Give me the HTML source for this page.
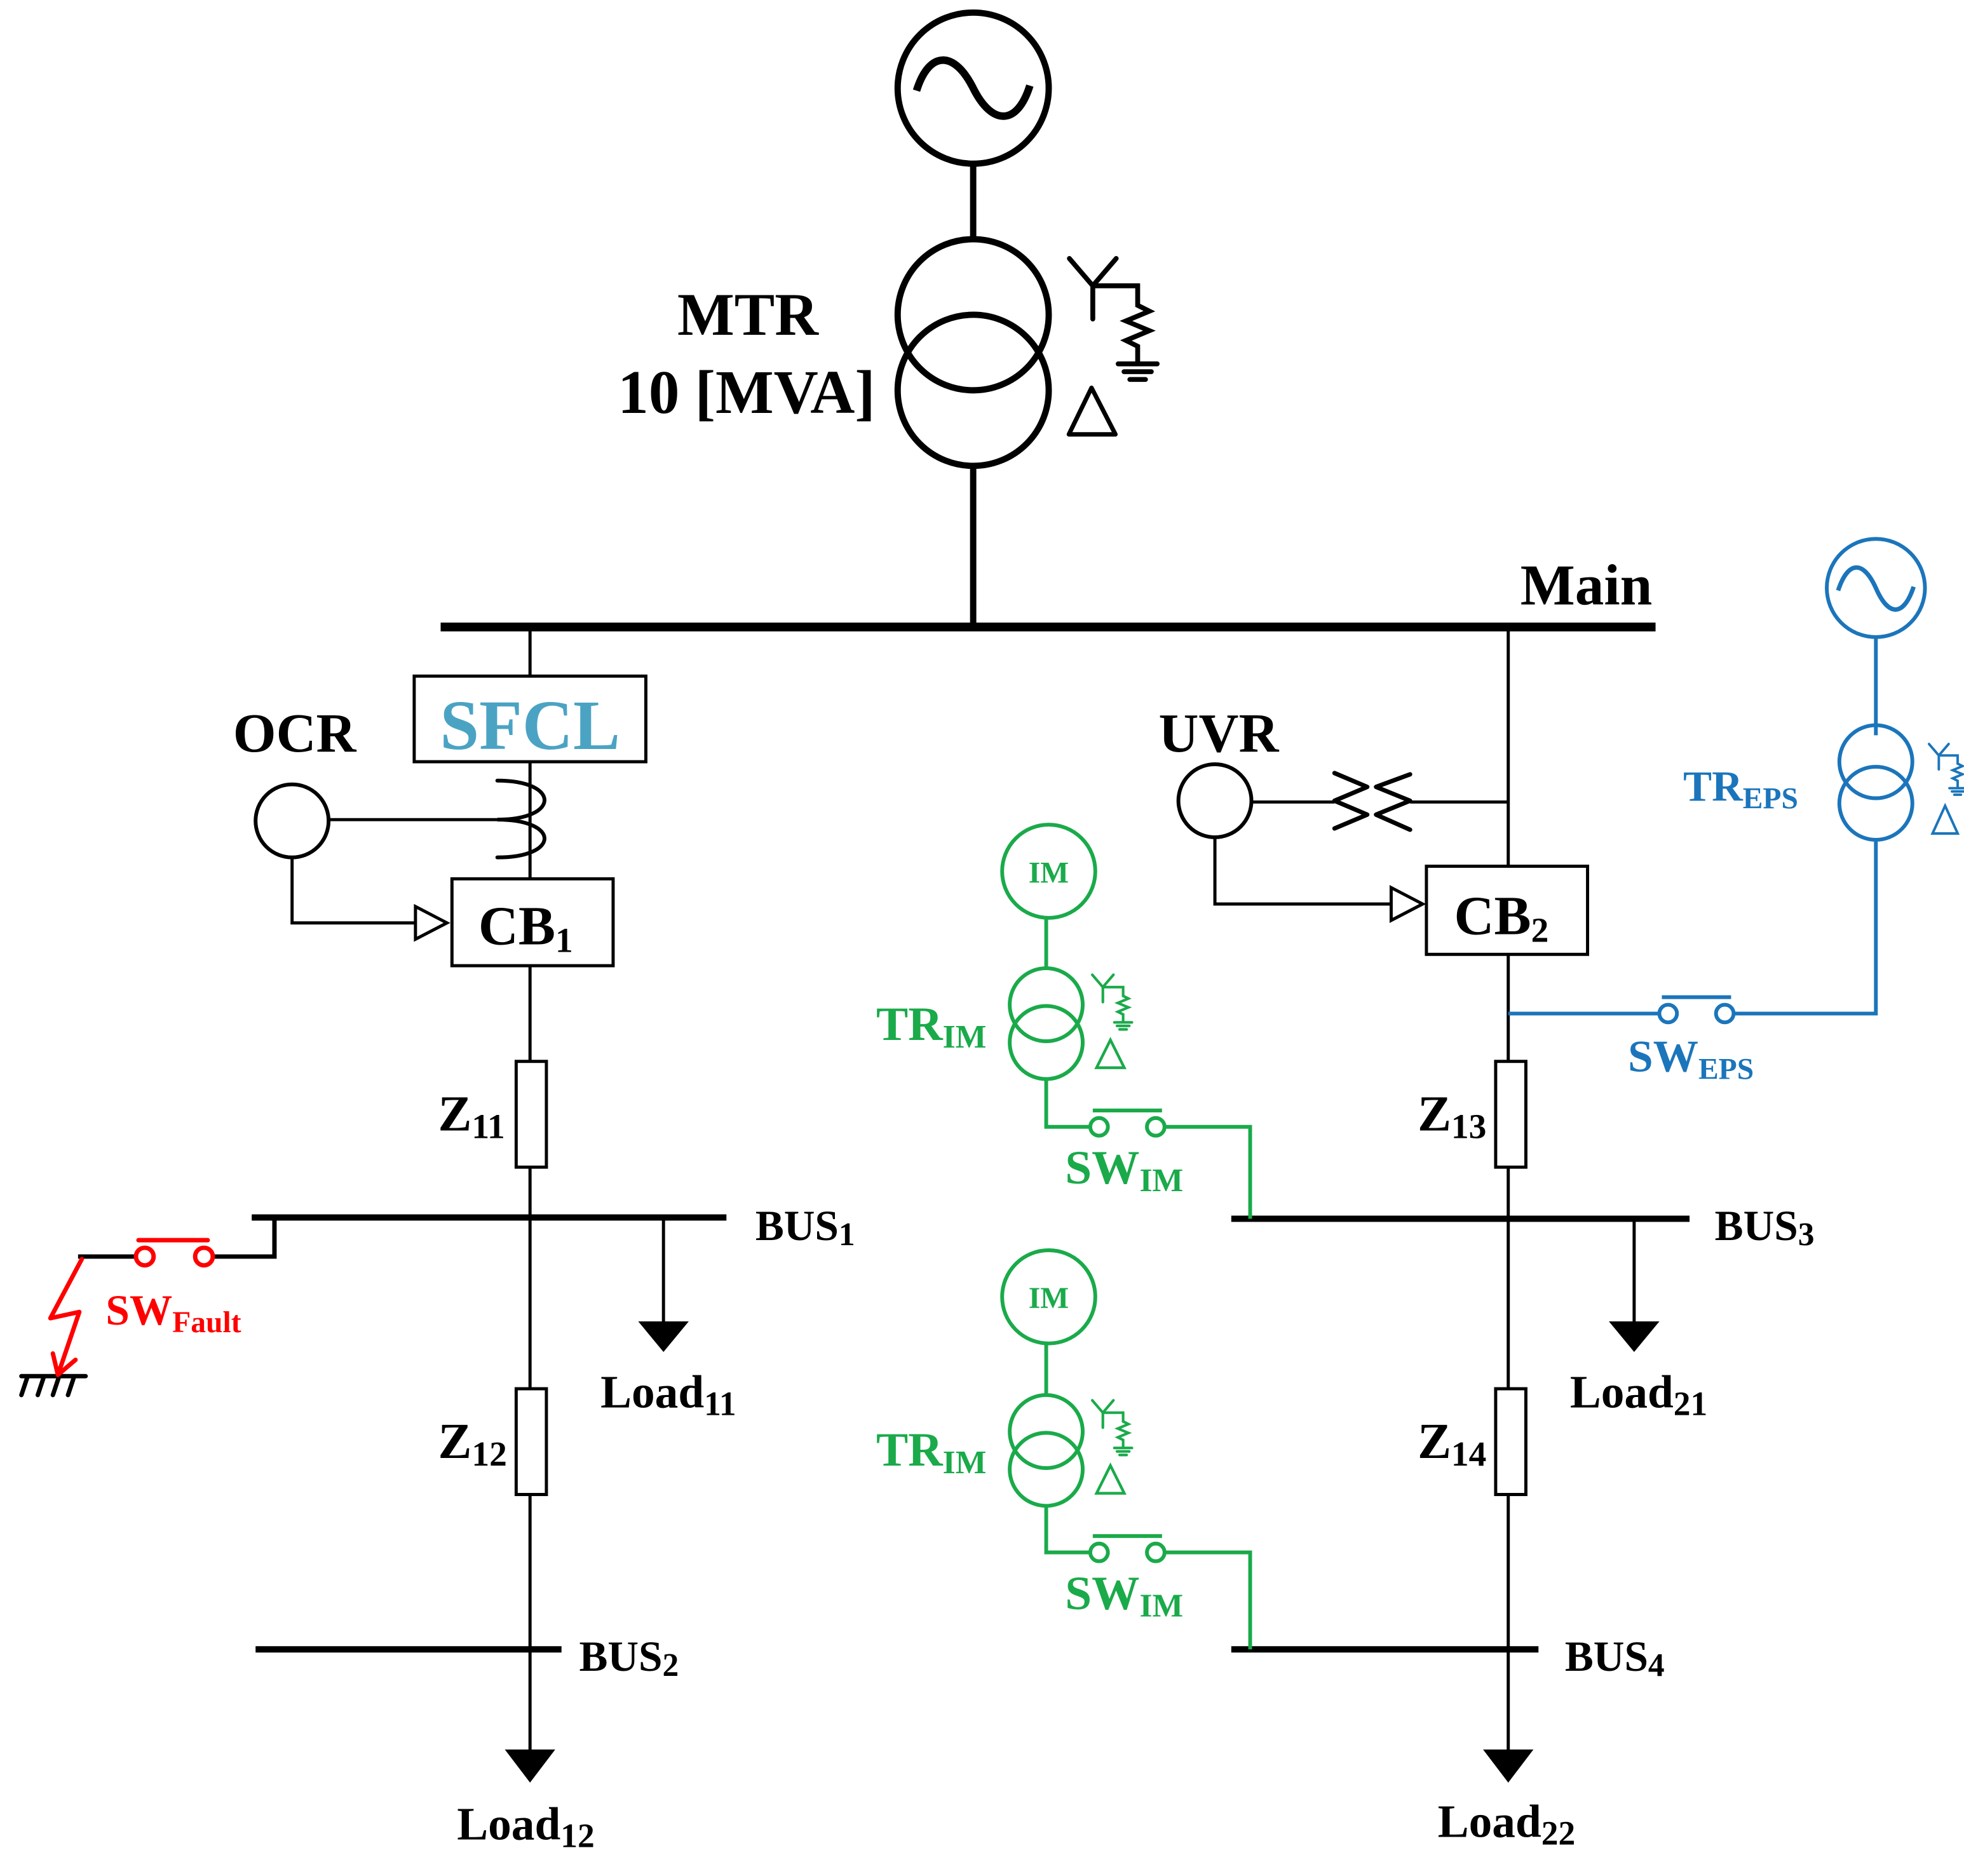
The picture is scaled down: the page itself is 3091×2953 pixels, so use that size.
<!DOCTYPE html>
<html><head><meta charset="utf-8"><style>
html,body{margin:0;padding:0;background:#fff;}
svg{display:block;}
text{font-family:"Liberation Serif",serif;font-weight:bold;}
</style></head><body>
<svg width="3091" height="2953" viewBox="0 0 1560 1490" preserveAspectRatio="none" xmlns="http://www.w3.org/2000/svg">
<defs>
<g id="yg" fill="none" stroke-linecap="round">
 <path d="M-12,-14 L0,0 L12,-14 M0,0 V17 M0,0 H23 V10 L29,13 L17,18 L29,23 L17,28 L23,31 V40 M13,40 H33 M16,44 H30 M19,48 H27"/>
</g>
</defs>
<rect width="1560" height="1490" fill="#fff"/>
<g stroke="#000" fill="none">
 <circle cx="773" cy="70" r="60" stroke-width="5"/>
 <path d="M728,72 C738,40 758,40 773,70 C788,100 808,100 818,68" stroke-width="6"/>
 <line x1="773" y1="130" x2="773" y2="190" stroke-width="5"/>
 <circle cx="773" cy="250" r="60" stroke-width="5"/>
 <circle cx="773" cy="310" r="60" stroke-width="5"/>
 <line x1="773" y1="370" x2="773" y2="498" stroke-width="5"/>
 <g transform="translate(868,227) scale(1.55)"><use href="#yg" stroke-width="2.5"/></g>
 <path d="M867,308 L849,345 L886,345 Z" stroke-width="3.5" stroke-linejoin="round"/>
 <line x1="350" y1="498" x2="1315" y2="498" stroke-width="7"/>
 <!-- left feeder -->
 <line x1="421" y1="498" x2="421" y2="537" stroke-width="2.5"/>
 <rect x="329" y="537" width="184" height="68" stroke-width="2.5"/>
 <line x1="421" y1="605" x2="421" y2="698" stroke-width="2.5"/>
 <path d="M395,620 C445,620 445,651 395,651 C445,651 445,681 395,681" stroke-width="3" stroke-linecap="round"/>
 <circle cx="232" cy="652" r="29" stroke-width="3"/>
 <line x1="261" y1="651" x2="400" y2="651" stroke-width="2.5"/>
 <path d="M232,681 V733 H330" stroke-width="2.5"/>
 <path d="M330,720 L355,733 L330,746 Z" stroke-width="2.5"/>
 <rect x="359" y="698" width="128" height="69" stroke-width="2.5"/>
 <line x1="421" y1="767" x2="421" y2="843" stroke-width="2.5"/>
 <rect x="410" y="843" width="24" height="84" stroke-width="2.5"/>
 <line x1="421" y1="927" x2="421" y2="1103" stroke-width="2.5"/>
 <line x1="200" y1="967" x2="577" y2="967" stroke-width="5"/>
 <line x1="527" y1="967" x2="527" y2="1050" stroke-width="2.5"/>
 <path d="M508,1050 L546,1050 L527,1073 Z" fill="#000" stroke-width="1"/>
 <rect x="410" y="1103" width="24" height="84" stroke-width="2.5"/>
 <line x1="421" y1="1187" x2="421" y2="1390" stroke-width="2.5"/>
 <line x1="203" y1="1310" x2="446" y2="1310" stroke-width="5"/>
 <path d="M402,1390 L440,1390 L421,1415 Z" fill="#000" stroke-width="1"/>
 <path d="M200,967 H218 V998 H168" stroke-width="3.5"/>
 <line x1="62" y1="998" x2="108" y2="998" stroke-width="3.5"/>
 <path d="M17,1093 H68 M22,1093 L17,1108 M35,1093 L30,1108 M47,1093 L42,1108 M59,1093 L54,1108" stroke-width="3.5" stroke-linecap="round"/>
 <!-- right feeder -->
 <line x1="1198" y1="498" x2="1198" y2="688" stroke-width="2.5"/>
 <circle cx="965" cy="636" r="29" stroke-width="3"/>
 <line x1="994" y1="637" x2="1060" y2="637" stroke-width="2.5"/>
 <line x1="1120" y1="637" x2="1198" y2="637" stroke-width="2.5"/>
 <path d="M1060,614 L1086,625 L1060,636 L1086,647 L1060,658 M1120,615 L1093,625 L1120,636 L1093,647 L1120,659" stroke-width="3.5" stroke-linecap="round" stroke-linejoin="round"/>
 <path d="M965,665 V718 H1105" stroke-width="2.5"/>
 <path d="M1105,705 L1130,718 L1105,731 Z" stroke-width="2.5"/>
 <rect x="1133" y="688" width="128" height="70" stroke-width="2.5"/>
 <line x1="1198" y1="758" x2="1198" y2="843" stroke-width="2.5"/>
 <rect x="1188" y="843" width="24" height="84" stroke-width="2.5"/>
 <line x1="1198" y1="927" x2="1198" y2="1103" stroke-width="2.5"/>
 <line x1="978" y1="968" x2="1342" y2="968" stroke-width="5"/>
 <line x1="1298" y1="968" x2="1298" y2="1050" stroke-width="2.5"/>
 <path d="M1279,1050 L1317,1050 L1298,1073 Z" fill="#000" stroke-width="1"/>
 <rect x="1188" y="1103" width="24" height="84" stroke-width="2.5"/>
 <line x1="1198" y1="1187" x2="1198" y2="1390" stroke-width="2.5"/>
 <line x1="978" y1="1310" x2="1222" y2="1310" stroke-width="5"/>
 <path d="M1179,1390 L1217,1390 L1198,1415 Z" fill="#000" stroke-width="1"/>
</g>
<g stroke="#f00" fill="none" stroke-width="3.5" stroke-linecap="round" stroke-linejoin="round">
 <circle cx="115" cy="998" r="7"/><circle cx="162" cy="998" r="7"/>
 <line x1="110" y1="985" x2="165" y2="985"/>
 <path d="M65,1000 L40,1047 L63,1042 L46,1092 M42,1075 L46,1092 L60,1080"/>
</g>
<g stroke="#1b75bb" fill="none" stroke-width="3">
 <circle cx="1490" cy="467" r="39"/>
 <path d="M1460,469 C1468,445 1480,445 1490,467 C1500,490 1512,490 1520,466" stroke-width="3.5"/>
 <line x1="1490" y1="506" x2="1490" y2="584"/>
 <circle cx="1490" cy="605" r="29"/><circle cx="1490" cy="638" r="29"/>
 <path d="M1490,667 V805 H1377 M1318,805 H1198"/>
 <circle cx="1325" cy="805" r="7"/><circle cx="1370" cy="805" r="7"/>
 <line x1="1320" y1="792" x2="1375" y2="792"/>
 <g transform="translate(1540,600) scale(0.65)"><use href="#yg" stroke-width="3"/></g>
 <path d="M1545,640 L1535,662 L1555,662 Z" stroke-width="2"/>
</g>
<g stroke="#1aaa4a" fill="none" stroke-width="3">
 <circle cx="833" cy="692" r="37"/>
 <line x1="831" y1="729" x2="831" y2="769"/>
 <circle cx="831" cy="798" r="29"/><circle cx="831" cy="828" r="29"/>
 <path d="M831,857 V895 H866 M925,895 H993 V968"/>
 <circle cx="873" cy="895" r="7"/><circle cx="918" cy="895" r="7"/>
 <line x1="868" y1="882" x2="923" y2="882"/>
 <g transform="translate(876,784) scale(0.7)"><use href="#yg" stroke-width="3"/></g>
 <path d="M882,826 L871,848 L893,848 Z" stroke-width="2.2"/>
 <circle cx="833" cy="1030" r="37"/>
 <line x1="831" y1="1067" x2="831" y2="1108"/>
 <circle cx="831" cy="1137" r="29"/><circle cx="831" cy="1167" r="29"/>
 <path d="M831,1196 V1233 H866 M925,1233 H993 V1310"/>
 <circle cx="873" cy="1233" r="7"/><circle cx="918" cy="1233" r="7"/>
 <line x1="868" y1="1220" x2="923" y2="1220"/>
 <g transform="translate(876,1122) scale(0.7)"><use href="#yg" stroke-width="3"/></g>
 <path d="M882,1164 L871,1186 L893,1186 Z" stroke-width="2.2"/>
</g>
<g fill="#000">
 <text x="594" y="266" font-size="48" text-anchor="middle">MTR</text>
 <text x="593" y="328" font-size="49" text-anchor="middle">10 [MVA]</text>
 <text x="1260" y="480" font-size="46" text-anchor="middle">Main</text>
 <text x="234" y="597" font-size="44" text-anchor="middle">OCR</text>
 <text x="968" y="597" font-size="44" text-anchor="middle">UVR</text>
 <text x="380" y="750" font-size="44">CB<tspan font-size="28" dy="6">1</tspan></text>
 <text x="1155" y="742" font-size="44">CB<tspan font-size="28" dy="6">2</tspan></text>
 <text x="348" y="898" font-size="40">Z<tspan font-size="28" dy="6">11</tspan></text>
 <text x="348" y="1158" font-size="40">Z<tspan font-size="28" dy="6">12</tspan></text>
 <text x="1126" y="898" font-size="40">Z<tspan font-size="28" dy="6">13</tspan></text>
 <text x="1126" y="1158" font-size="40">Z<tspan font-size="28" dy="6">14</tspan></text>
 <text x="600" y="985" font-size="34">BUS<tspan font-size="26" dy="4">1</tspan></text>
 <text x="460" y="1327" font-size="34">BUS<tspan font-size="26" dy="4">2</tspan></text>
 <text x="1362" y="985" font-size="34">BUS<tspan font-size="26" dy="4">3</tspan></text>
 <text x="1243" y="1327" font-size="34">BUS<tspan font-size="26" dy="4">4</tspan></text>
 <text x="477" y="1118" font-size="37">Load<tspan font-size="27" dy="6">11</tspan></text>
 <text x="363" y="1461" font-size="37">Load<tspan font-size="27" dy="6">12</tspan></text>
 <text x="1247" y="1118" font-size="37">Load<tspan font-size="27" dy="6">21</tspan></text>
 <text x="1142" y="1459" font-size="37">Load<tspan font-size="27" dy="6">22</tspan></text>
</g>
<text x="421" y="595" font-size="56" fill="#4ba3c3" text-anchor="middle">SFCL</text>
<text x="84" y="1052" font-size="34" fill="#f00">SW<tspan font-size="24" dy="6">Fault</tspan></text>
<g fill="#1b75bb">
 <text x="1337" y="636" font-size="34">TR<tspan font-size="24" dy="6">EPS</tspan></text>
 <text x="1293" y="851" font-size="36">SW<tspan font-size="24" dy="6">EPS</tspan></text>
</g>
<g fill="#1aaa4a">
 <text x="833" y="701" font-size="24" text-anchor="middle">IM</text>
 <text x="833" y="1039" font-size="24" text-anchor="middle">IM</text>
 <text x="696" y="826" font-size="38">TR<tspan font-size="26" dy="6">IM</tspan></text>
 <text x="696" y="1164" font-size="38">TR<tspan font-size="26" dy="6">IM</tspan></text>
 <text x="846" y="940" font-size="38">SW<tspan font-size="26" dy="6">IM</tspan></text>
 <text x="846" y="1278" font-size="38">SW<tspan font-size="26" dy="6">IM</tspan></text>
</g>
</svg>
</body></html>
